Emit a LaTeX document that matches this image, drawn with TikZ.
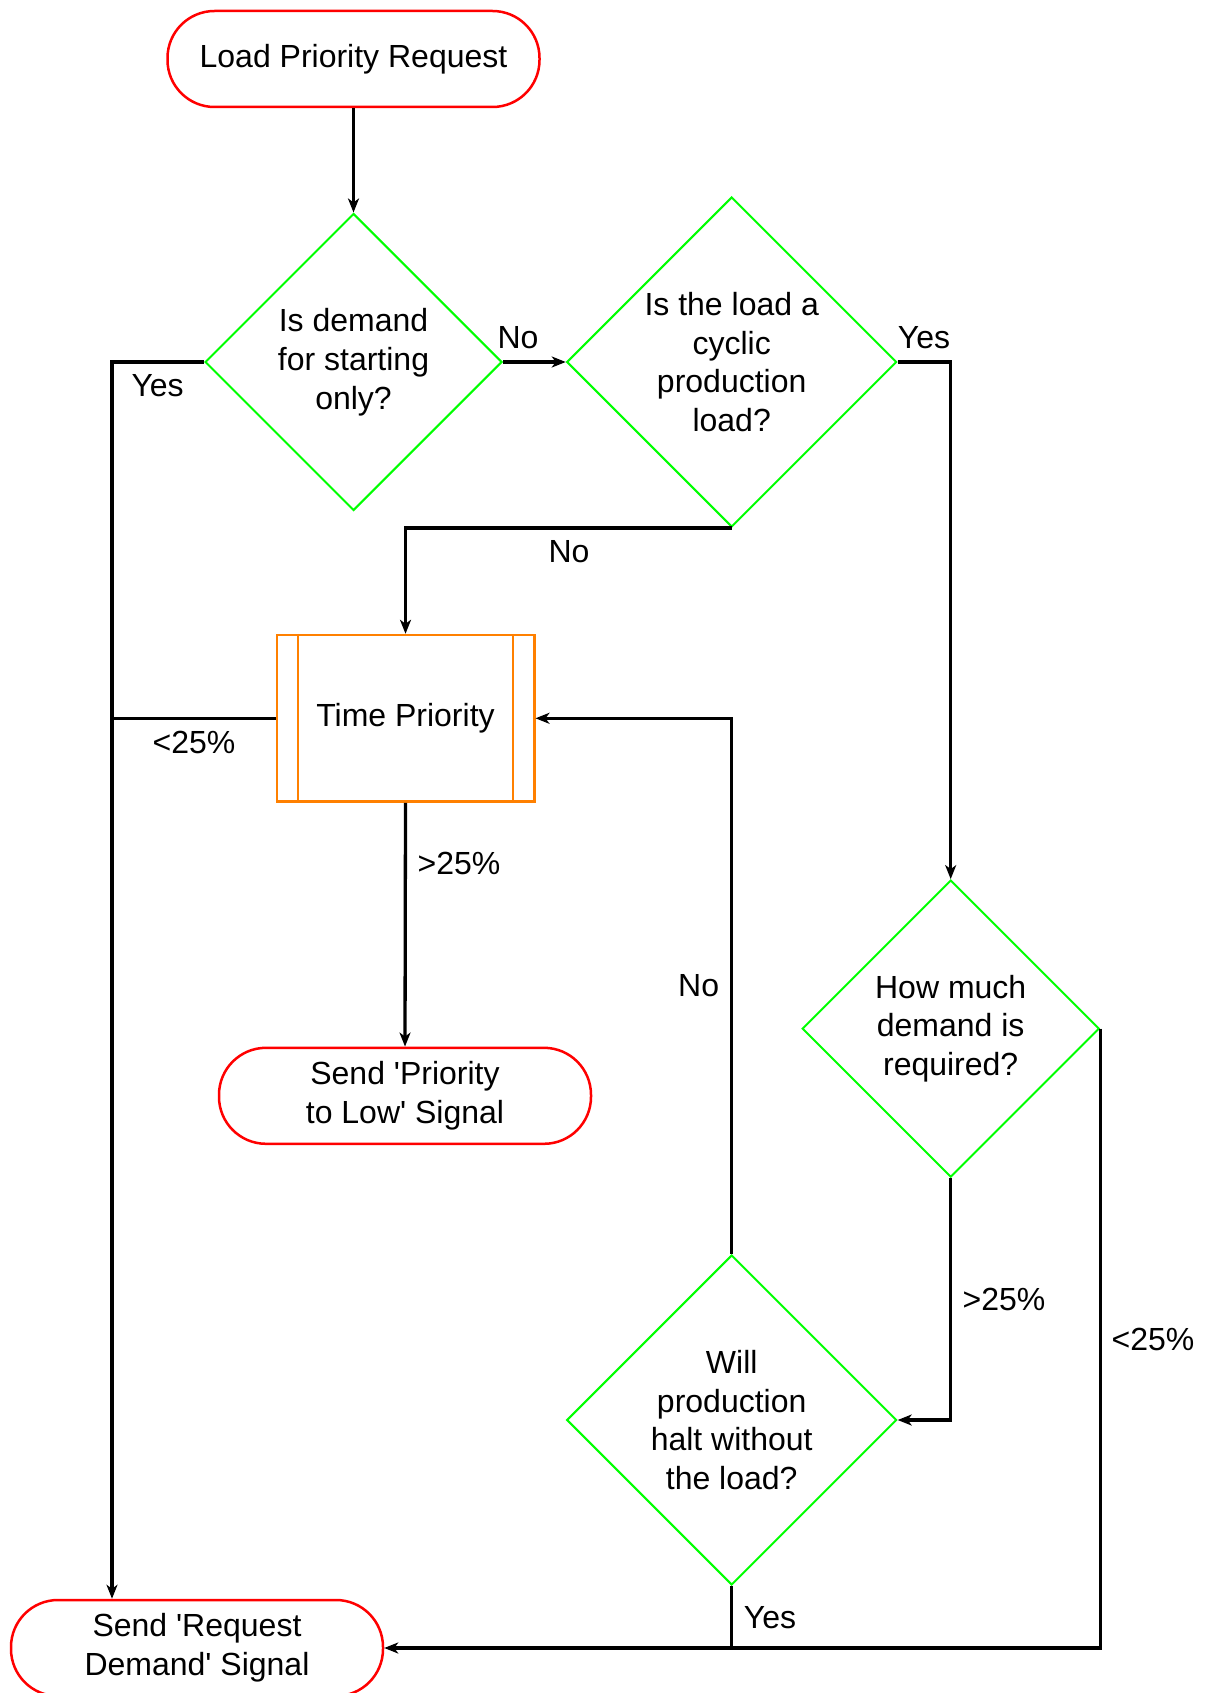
\documentclass[tikz,border=0pt]{standalone}
\usepackage{fontspec}
\setmainfont{Liberation Sans}
\usetikzlibrary{shapes.geometric,arrows.meta}
\definecolor{termred}{RGB}{255,0,0}
\definecolor{decgreen}{RGB}{0,255,0}
\definecolor{procorange}{RGB}{255,128,0}
\newcommand{\sq}{\textquotesingle}
\begin{document}
\begin{tikzpicture}[x=1pt,y=-1pt,
  every node/.style={font=\fontsize{32}{38.8}\selectfont, align=center},
  term/.style={draw=termred, line width=2.5pt, rounded corners=47pt,
    minimum width=372pt, minimum height=96pt, inner sep=0pt},
  dec/.style={draw=decgreen, line width=2pt, shape=diamond, inner sep=0pt},
  proc/.style={draw=procorange, line width=2.5pt, minimum width=257.5pt,
    minimum height=166.5pt, inner sep=0pt},
  conn/.style={line width=3.3pt, line join=miter},
  arr/.style={conn, -{Stealth[length=14pt,width=11pt,inset=4pt]}},
  lbl/.style={inner sep=0pt}]

\useasboundingbox (0,0) rectangle (1205,1693);
\fill[white] (0,0) rectangle (1205,1693);

% terminals
\node[term] (start) at (353.5,59) {Load Priority Request};
\node[term] (sp) at (405,1095.8) {Send \sq Priority\\to Low\sq\ Signal};
\node[term] (req) at (197,1648) {Send \sq Request\\Demand\sq\ Signal};

% decisions
\node[dec, minimum width=297pt, minimum height=297pt] (d1) at (353.5,362)
  {Is demand\\for starting\\only?};
\node[dec, minimum width=330pt, minimum height=330pt] (d2) at (731.7,362)
  {Is the load a\\cyclic\\production\\load?};
\node[dec, minimum width=297pt, minimum height=297pt] (d3) at (950.7,1028.6)
  {How much\\demand is\\required?};
\node[dec, minimum width=330pt, minimum height=330pt] (d4) at (731.7,1420)
  {Will\\production\\halt without\\the load?};

% predefined process
\node[proc] (tp) at (405.5,718.3) {Time Priority};
\draw[procorange, line width=2.5pt]
  ([xshift=22.3pt]tp.north west) -- ([xshift=22.3pt]tp.south west)
  ([xshift=-22.6pt]tp.north east) -- ([xshift=-22.6pt]tp.south east);

% left bus
\coordinate (lbus) at (112,362);

% connectors
\draw[arr] (start) -- (d1);
\draw[arr] (d1.west) -- (lbus) -- (lbus |- req.north);
\draw[arr] (d1.east) -- (d2.west);
\draw[arr] (d2.east) -| (d3.north);
\draw[arr] (d2.south) -| (tp.north);
\draw[conn] (tp.west) -- (tp.west -| lbus);
\draw[arr] (tp.south) -- (sp.north);
\draw[arr] (d4.north) |- (tp.east);
\draw[arr] (d3.south) |- (d4.east);
\draw[arr] (d3.east) |- (req.east);
\draw[conn] (d4.south) -- (d4.south |- req.east);

% connector labels
\node[lbl] (lyes1) at (157.6,385.5) {Yes};
\node[lbl] (lno1) at (518,338) {No};
\node[lbl] (lyes2) at (924,338) {Yes};
\node[lbl] (lno2) at (569,551.7) {No};
\node[lbl] (llt1) at (194,742.8) {<25\%};
\node[lbl] (lgt1) at (459,863.8) {>25\%};
\node[lbl] (lno3) at (698.6,985.8) {No};
\node[lbl] (lgt2) at (1004,1299.5) {>25\%};
\node[lbl] (llt2) at (1153,1339.3) {<25\%};
\node[lbl] (lyes3) at (770,1618) {Yes};
\end{tikzpicture}
\end{document}
